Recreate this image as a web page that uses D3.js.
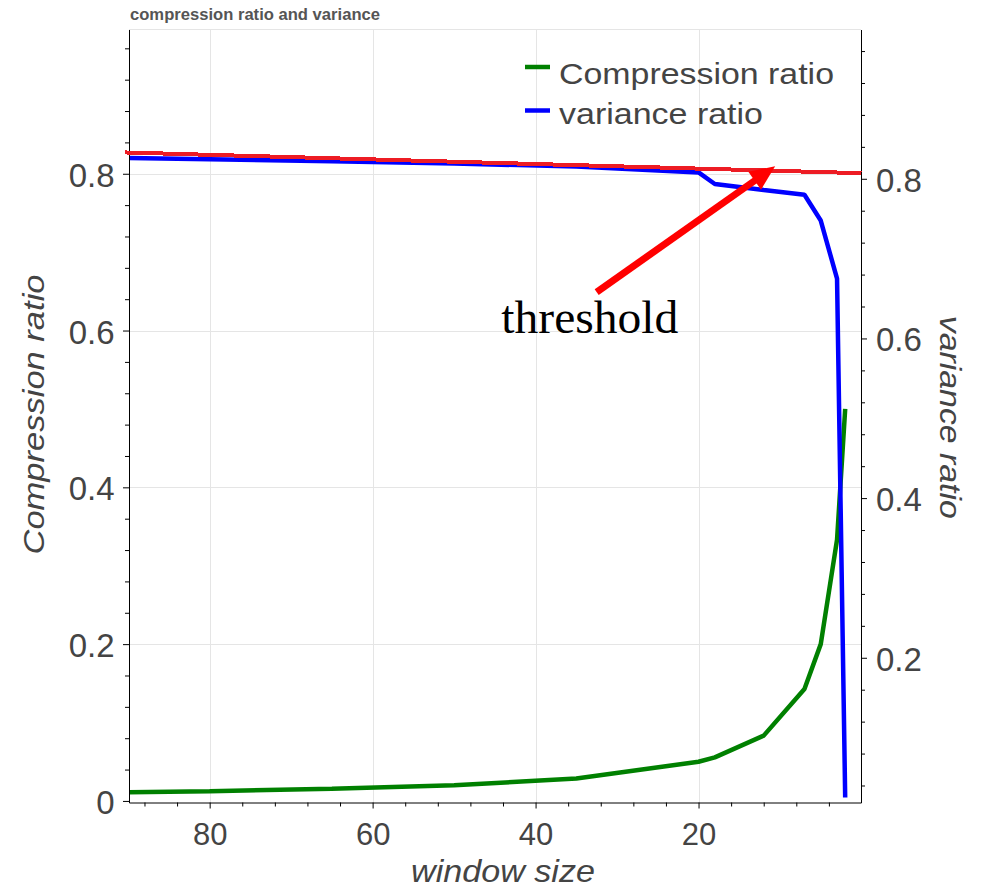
<!DOCTYPE html>
<html>
<head>
<meta charset="utf-8">
<script src="https://cdn.jsdelivr.net/npm/d3@7"></script>
<style>
  html, body { margin: 0; padding: 0; background: #fff; }
  svg { display: block; }
</style>
</head>
<body>
<svg id="chart" width="985" height="889"></svg>
<script>
// Window sizes (x) and the two measured ratios
const windowSizes      = [90, 80, 65, 50, 35, 20, 18, 12, 7, 5, 3, 2];
const compressionRatio = [0.0111, 0.0125, 0.0154, 0.02, 0.0286, 0.05, 0.0556, 0.0833, 0.1429, 0.2, 0.3333, 0.5];
const varianceRatio    = [0.826, 0.8245, 0.822, 0.819, 0.8155, 0.808, 0.7935, 0.786, 0.780, 0.7477, 0.6748, 0.025];

// Tick values
const xMajorTicks = [80, 60, 40, 20];
const leftMajorTicks = [0, 0.2, 0.4, 0.6, 0.8];
const rightMajorTicks = [0.2, 0.4, 0.6, 0.8];

// Hand-drawn threshold annotation (line in variance-ratio units, arrow and text in compression-ratio units)
const thresholdX = [90.4, 0.0];
const thresholdY = [0.833, 0.807];
const arrowX = [32.5, 10.6];
const arrowY = [0.649, 0.8096];
const thresholdLabel = { text: "threshold", x: 44.2, y: 0.597 };

const seriesNames = ["Compression ratio", "variance ratio"];
const seriesColors = ["#008000", "#0000ff"];

const svg = d3.select("#chart");
const L = 129, R = 861, T = 29.5, B = 802.5;

const x = d3.scaleLinear().domain([89.9, 0.06]).range([L, R]);
const yL = d3.scaleLinear().domain([-0.002, 0.984]).range([B, T]);
const yR = d3.scaleLinear().domain([0.0187, 0.987]).range([B, T]);

const FONT = "'Liberation Sans', Arial, Helvetica, sans-serif";

// minor ticks
const xMinor = d3.range(4, 89, 4).filter(v => !xMajorTicks.includes(v));
const yMinor = d3.range(1, 25).map(i => +(i * 0.04).toFixed(2)).filter(v => Math.abs(v * 5 - Math.round(v * 5)) > 1e-6);
const yMinorL = yMinor.filter(v => v < 0.984);
const yMinorR = yMinor.filter(v => v > 0.0187 && v < 0.987);

// grid
const grid = svg.append("g");
grid.selectAll("line.vx").data(xMajorTicks).join("line")
  .attr("x1", d => Math.round(x(d)) + 0.5).attr("x2", d => Math.round(x(d)) + 0.5)
  .attr("y1", T).attr("y2", B).attr("stroke", "#e5e5e5");
grid.selectAll("line.hy").data(leftMajorTicks.filter(v => v > 0)).join("line")
  .attr("x1", L).attr("x2", R)
  .attr("y1", d => Math.round(yL(d)) + 0.5).attr("y2", d => Math.round(yL(d)) + 0.5)
  .attr("stroke", "#e5e5e5");
// plot outline top
svg.append("line").attr("x1", L).attr("x2", R).attr("y1", T).attr("y2", T).attr("stroke", "#e5e5e5");

// title
svg.append("text").attr("x", 130).attr("y", 20)
  .attr("font-family", FONT).attr("font-weight", "bold").attr("font-size", 16)
  .attr("fill", "#555").attr("textLength", 250).attr("lengthAdjust", "spacingAndGlyphs")
  .text("compression ratio and variance");

// data lines
svg.append("clipPath").attr("id", "plotclip").append("rect")
  .attr("x", L).attr("y", T).attr("width", R - L).attr("height", B - T);
const plot = svg.append("g").attr("clip-path", "url(#plotclip)");

const compLine = d3.line().x((d, i) => x(windowSizes[i])).y(d => yL(d));
const varLine = d3.line().x((d, i) => x(windowSizes[i])).y(d => yR(d));

plot.append("path").datum(compressionRatio).attr("d", compLine)
  .attr("fill", "none").attr("stroke", seriesColors[0]).attr("stroke-width", 4.5)
  .attr("stroke-linejoin", "bevel");
plot.append("path").datum(varianceRatio).attr("d", varLine)
  .attr("fill", "none").attr("stroke", seriesColors[1]).attr("stroke-width", 4.5)
  .attr("stroke-linejoin", "bevel");

// axes
function styleAxis(g, size) {
  g.select(".domain").attr("stroke", "#000");
  g.selectAll(".tick line").attr("stroke", "#000");
  g.selectAll(".tick text").attr("font-family", FONT).attr("font-size", size).attr("fill", "#444");
}

const xAxis = svg.append("g").attr("transform", `translate(0,${B})`)
  .call(d3.axisBottom(x).tickValues(xMajorTicks).tickSize(6).tickSizeOuter(0).tickPadding(14.5).tickFormat(d3.format("d")));
styleAxis(xAxis, 31);
svg.append("g").attr("transform", `translate(0,${B})`)
  .call(d3.axisBottom(x).tickValues(xMinor).tickSize(4).tickSizeOuter(0).tickFormat(""))
  .call(g => { g.select(".domain").remove(); g.selectAll("line").attr("stroke", "#000"); });

const fmt = d => d === 0 ? "0" : d3.format(".1f")(d);
const leftAxis = svg.append("g").attr("transform", `translate(${L},0)`)
  .call(d3.axisLeft(yL).tickValues(leftMajorTicks).tickSize(6).tickSizeOuter(0).tickPadding(8.5).tickFormat(fmt));
styleAxis(leftAxis, 33);
leftAxis.selectAll(".tick text").attr("dy", "0.38em");
svg.append("g").attr("transform", `translate(${L},0)`)
  .call(d3.axisLeft(yL).tickValues(yMinorL).tickSize(4).tickSizeOuter(0).tickFormat(""))
  .call(g => { g.select(".domain").remove(); g.selectAll("line").attr("stroke", "#000"); });

const rightAxis = svg.append("g").attr("transform", `translate(${R},0)`)
  .call(d3.axisRight(yR).tickValues(rightMajorTicks).tickSize(6).tickSizeOuter(0).tickPadding(9).tickFormat(fmt));
styleAxis(rightAxis, 33);
rightAxis.selectAll(".tick text").attr("dy", "0.38em");
svg.append("g").attr("transform", `translate(${R},0)`)
  .call(d3.axisRight(yR).tickValues(yMinorR).tickSize(4).tickSizeOuter(0).tickFormat(""))
  .call(g => { g.select(".domain").remove(); g.selectAll("line").attr("stroke", "#000"); });

// axis titles
svg.append("text").attr("x", 503).attr("y", 882).attr("text-anchor", "middle")
  .attr("font-family", FONT).attr("font-style", "italic").attr("font-size", 32).attr("fill", "#444")
  .attr("textLength", 184).attr("lengthAdjust", "spacingAndGlyphs")
  .text("window size");
svg.append("text").attr("transform", "translate(44,414.5) rotate(-90)").attr("text-anchor", "middle")
  .attr("font-family", FONT).attr("font-style", "italic").attr("font-size", 29.5).attr("fill", "#444")
  .attr("textLength", 280).attr("lengthAdjust", "spacingAndGlyphs")
  .text("Compression ratio");
svg.append("text").attr("transform", "translate(940,417.3) rotate(90)").attr("text-anchor", "middle")
  .attr("font-family", FONT).attr("font-style", "italic").attr("font-size", 30).attr("fill", "#444")
  .attr("textLength", 203).attr("lengthAdjust", "spacingAndGlyphs")
  .text("variance ratio");

// legend
const legendRows = [{ y: 67, ty: 83.5, w: 275 }, { y: 110.5, ty: 123.5, w: 204 }];
legendRows.forEach((r, i) => {
  svg.append("line").attr("x1", 525).attr("x2", 550).attr("y1", r.y).attr("y2", r.y)
    .attr("stroke", seriesColors[i]).attr("stroke-width", 4.5);
  svg.append("text").attr("x", 559).attr("y", r.ty)
    .attr("font-family", FONT).attr("font-size", 29).attr("fill", "#444")
    .attr("textLength", r.w).attr("lengthAdjust", "spacingAndGlyphs")
    .text(seriesNames[i]);
});

// threshold line
svg.append("path").datum(thresholdY)
  .attr("d", d3.line().x((d, i) => x(thresholdX[i])).y(d => yR(d)))
  .attr("stroke", "#ed1c24").attr("stroke-width", 4).attr("fill", "none")
  .attr("shape-rendering", "crispEdges");

// arrow pointing at the threshold
(function drawArrow() {
  const x0 = x(arrowX[0]), y0 = yL(arrowY[0]);
  const x1 = x(arrowX[1]), y1 = yL(arrowY[1]);
  const dx = x1 - x0, dy = y1 - y0, len = Math.hypot(dx, dy);
  const ux = dx / len, uy = dy / len, px = -uy, py = ux;
  const headLen = 25, headHalf = 11;
  const bx = x1 - ux * headLen, by = y1 - uy * headLen;
  svg.append("line").attr("x1", x0).attr("y1", y0).attr("x2", bx + ux * 2).attr("y2", by + uy * 2)
    .attr("stroke", "#ff0000").attr("stroke-width", 7);
  svg.append("polygon")
    .attr("points", [[x1, y1], [bx + px * headHalf, by + py * headHalf], [bx - px * headHalf, by - py * headHalf]].map(p => p.join(",")).join(" "))
    .attr("fill", "#ff0000");
})();

svg.append("text").attr("x", x(thresholdLabel.x)).attr("y", yL(thresholdLabel.y))
  .attr("font-family", "'Liberation Serif', 'Times New Roman', serif").attr("font-size", 47).attr("fill", "#000")
  .attr("textLength", 177).attr("lengthAdjust", "spacingAndGlyphs")
  .text(thresholdLabel.text);
</script>
</body>
</html>
